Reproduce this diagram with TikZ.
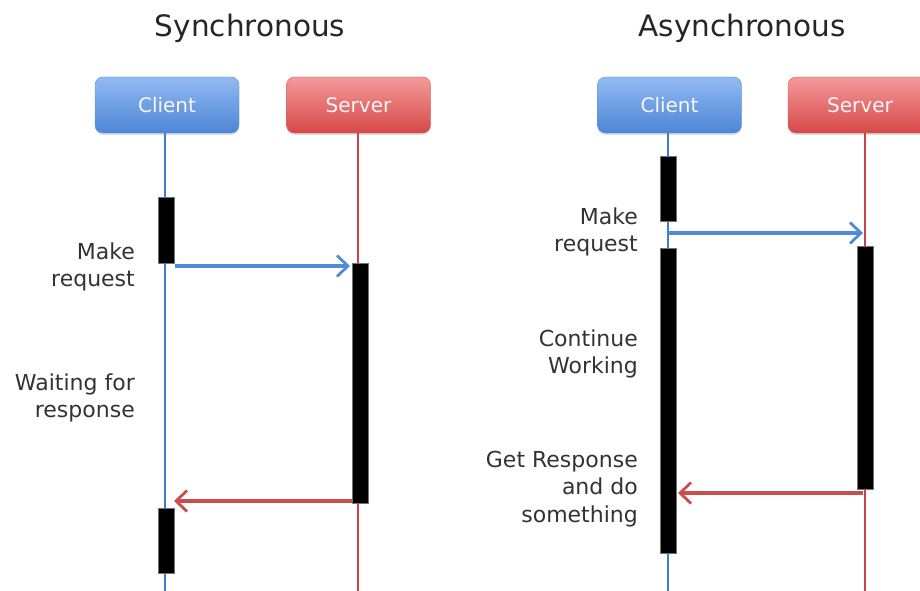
\documentclass[tikz,border=0pt]{standalone}
\usepackage{fontspec}
\setmainfont{DejaVu Sans}
\usetikzlibrary{arrows.meta,shadows}
\definecolor{clientline}{HTML}{3C7FD0}
\definecolor{serverline}{HTML}{C94444}
\definecolor{clienttop}{HTML}{93BAF2}
\definecolor{clientbot}{HTML}{4C86D6}
\definecolor{clientedge}{HTML}{5A8ED8}
\definecolor{servertop}{HTML}{F49A9A}
\definecolor{serverbot}{HTML}{D84848}
\definecolor{serveredge}{HTML}{D55858}
\definecolor{labeltext}{HTML}{333333}
\tikzset{
  actor/.style={rounded corners=8pt, minimum width=144pt, minimum height=56pt,
    inner sep=0pt, font=\fontsize{20}{23}\selectfont, text=white!94!gray,
    drop shadow={shadow xshift=0pt, shadow yshift=-2pt, opacity=0.25}},
  clientbox/.style={actor, draw=clientedge, top color=clienttop, bottom color=clientbot},
  serverbox/.style={actor, draw=serveredge, top color=servertop, bottom color=serverbot},
  clientlife/.style={draw=clientline, line width=2.2pt},
  serverlife/.style={draw=serverline, line width=2.2pt},
  activity/.style={fill=black, draw=black!55, line width=1pt, minimum width=16pt,
    inner sep=0pt, anchor=north},
  msg/.style={line width=3.3pt, -{Straight Barb[length=11pt,width=21pt,line width=2.8pt]}},
  request/.style={msg, draw=clientline!90!white},
  reply/.style={msg, draw=serverline!95!white},
  note/.style={align=right, anchor=east, text=labeltext,
    font=\fontsize{22}{27.5}\selectfont, inner sep=0pt},
  heading/.style={font=\fontsize{29.5}{34}\selectfont, text=black!85}
}
\begin{document}
\begin{tikzpicture}[x=1pt,y=-1pt]
\useasboundingbox (0,0) rectangle (920,591);

% ---------- Synchronous ----------
\node[heading] (synctitle) at (250,28) {Synchronous};
\node[clientbox] (sclient) at (167,105) {Client};
\node[serverbox] (sserver) at (358.5,105) {Server};
\coordinate (sclientend) at (165,591);
\coordinate (sserverend) at (358,591);
\draw[clientlife] (sclient.south -| sclientend) -- (sclientend);
\draw[serverlife] (sserver.south -| sserverend) -- (sserverend);

\node[activity, minimum height=66pt] (sbarA) at (166,197) {};
\node[activity, minimum height=240pt] (sbarB) at (360,263) {};
\node[activity, minimum height=65pt] (sbarC) at (166,508) {};

\coordinate (sreqstart) at (175,266);
\coordinate (sreqend) at (350,266);
\draw[request] (sreqstart) -- (sreqend);
\coordinate (srepstart) at (352,501);
\coordinate (srepend) at (174,501);
\draw[reply] (srepstart) -- (srepend);

\node[note] (smake) at (135,267) {Make\\request};
\node[note] (swait) at (135,398) {Waiting for\\response};

% ---------- Asynchronous ----------
\node[heading] (asynctitle) at (742,28) {Asynchronous};
\node[clientbox] (aclient) at (669.5,105) {Client};
\node[serverbox] (aserver) at (860,105) {Server};
\coordinate (aclientend) at (668,591);
\coordinate (aserverend) at (865,591);
\draw[clientlife] (aclient.south -| aclientend) -- (aclientend);
\draw[serverlife] (aserver.south -| aserverend) -- (aserverend);

\node[activity, minimum height=65pt] (abarA) at (668,156) {};
\node[activity, minimum height=305pt] (abarB) at (668,248) {};
\node[activity, minimum height=243pt] (abarC) at (865.5,246) {};

\coordinate (areqstart) at (668,233);
\coordinate (areqend) at (863,233);
\draw[request] (areqstart) -- (areqend);
\coordinate (arepstart) at (863,493);
\coordinate (arepend) at (678,493);
\draw[reply] (arepstart) -- (arepend);

\node[note] (amake) at (638,232) {Make\\request};
\node[note] (awork) at (638,354) {Continue\\Working};
\node[note] (aget) at (638,489) {Get Response\\and do\\something};
\end{tikzpicture}
\end{document}
